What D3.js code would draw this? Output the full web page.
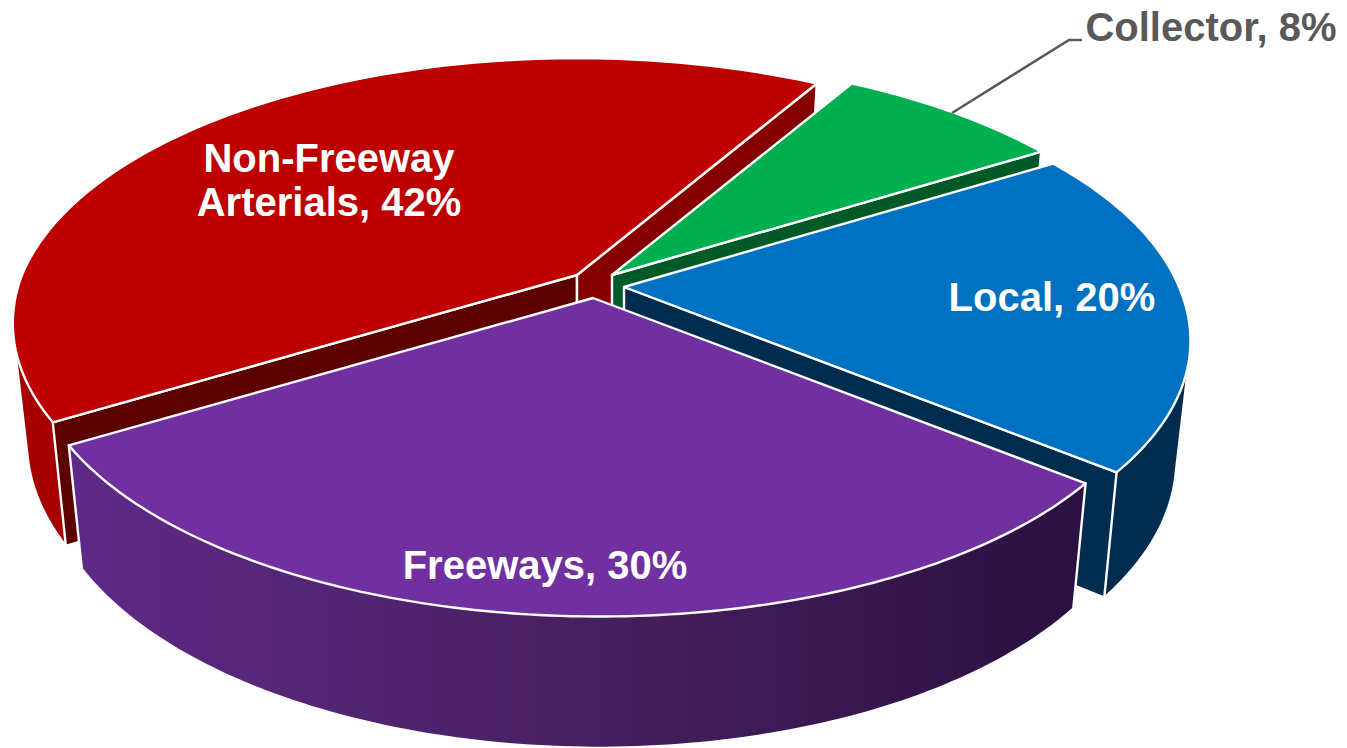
<!DOCTYPE html>
<html><head><meta charset="utf-8">
<script src="https://cdnjs.cloudflare.com/ajax/libs/d3/7.8.5/d3.min.js"></script>
<style>html,body{margin:0;padding:0;background:#fff;overflow:hidden}svg{display:block}</style>
</head><body><svg id="c" width="1347" height="748"></svg>
<script>
const categories = ["Non-Freeway Arterials", "Collector", "Local", "Freeways"];
const values = [42, 7.8, 19.7, 30.5];
const topColors = ["#bd0000", "#00b050", "#0070c0", "#7030a0"];
const wallColors = ["#a60000", "#004f24", "#002c4f", "url(#fw)"];
const startFaceColors = ["#5c0000", "#004f24", "#002c4f", "#2a1040"];
const endFaceColors = ["#860000", "#005a28", "#002c4f", "#2a1040"];
const apexes = [[577, 275], [612, 275], [624, 287], [593, 298]];

const A = 555, B = 258, K = 0.19, SHEAR = 6, SX = 0.975, SY = 1.045, D = 117;
const svg = d3.select("#c");
const defs = svg.append("defs");
const g = defs.append("linearGradient").attr("id", "fw").attr("gradientUnits", "userSpaceOnUse")
  .attr("x1", 65).attr("x2", 1087).attr("y1", 0).attr("y2", 0);
g.append("stop").attr("offset", 0).attr("stop-color", "#5f2a88");
g.append("stop").attr("offset", 0.5).attr("stop-color", "#472060");
g.append("stop").attr("offset", 1).attr("stop-color", "#2a1040");

const pie = d3.pie().sort(null).startAngle(-121 * Math.PI / 180).endAngle(239 * Math.PI / 180);
const arcs = pie(values);

function topPt(ax, a) {
  const u = Math.sin(a), v = -Math.cos(a), w = 1 - K * v;
  return [ax[0] + u * A / w + SHEAR * Math.max(v, 0), ax[1] + v * B / w];
}
function lowPt(ax, a) {
  const p = topPt(ax, a);
  return [ax[0] + (p[0] - ax[0]) * SX, ax[1] + (p[1] - ax[1]) * SY + D];
}
const line = d3.line();
const closed = pts => line(pts) + "Z";
const area = pts => d3.polygonArea(pts);

const layer = svg.append("g").attr("stroke", "#fff").attr("stroke-width", 2.4).attr("stroke-linejoin", "round");

arcs.forEach((d, i) => {
  const ax = apexes[i];
  const as = d3.range(0, 121).map(k => d.startAngle + (d.endAngle - d.startAngle) * k / 120);
  const arcTop = as.map(a => topPt(ax, a));
  const arcLow = as.map(a => lowPt(ax, a));
  const apexLow = [ax[0], ax[1] + D];

  // outer wall: hull of both rims, so the silhouette tangents are included
  layer.append("path").attr("d", closed(d3.polygonHull(arcTop.concat(arcLow)))).attr("fill", wallColors[i]);

  // cut faces with back-face culling
  const fS = [ax, topPt(ax, d.startAngle), lowPt(ax, d.startAngle), apexLow];
  const fE = [ax, apexLow, lowPt(ax, d.endAngle), topPt(ax, d.endAngle)];
  if (area(fS) > 0) layer.append("path").attr("d", closed(fS)).attr("fill", startFaceColors[i]);
  if (area(fE) > 0) layer.append("path").attr("d", closed(fE)).attr("fill", endFaceColors[i]);

  // top
  layer.append("path").attr("d", closed([ax].concat(arcTop))).attr("fill", topColors[i]);
});

const labelLines = [["Non-Freeway", "Arterials, 42%"], ["Collector, 8%"], ["Local, 20%"], ["Freeways, 30%"]];
const labelX = [329, 1211, 1052, 545];
const labelY = [172, 41, 311, 579];
const labelFill = ["#fff", "#595959", "#fff", "#fff"];
const t = svg.append("g").attr("font-family", "'Liberation Sans',Arial,sans-serif").attr("font-weight", 700)
  .attr("font-size", 40).attr("text-anchor", "middle");
labelLines.forEach((ls, i) => ls.forEach((s, j) => {
  t.append("text").attr("x", labelX[i]).attr("y", labelY[i] + j * 44).attr("fill", labelFill[i]).text(s);
}));

svg.append("path").attr("fill", "none").attr("stroke", "#595959").attr("stroke-width", 2.6)
  .attr("d", line([[952, 113], [1069, 40], [1082, 40]]));
</script></body></html>
